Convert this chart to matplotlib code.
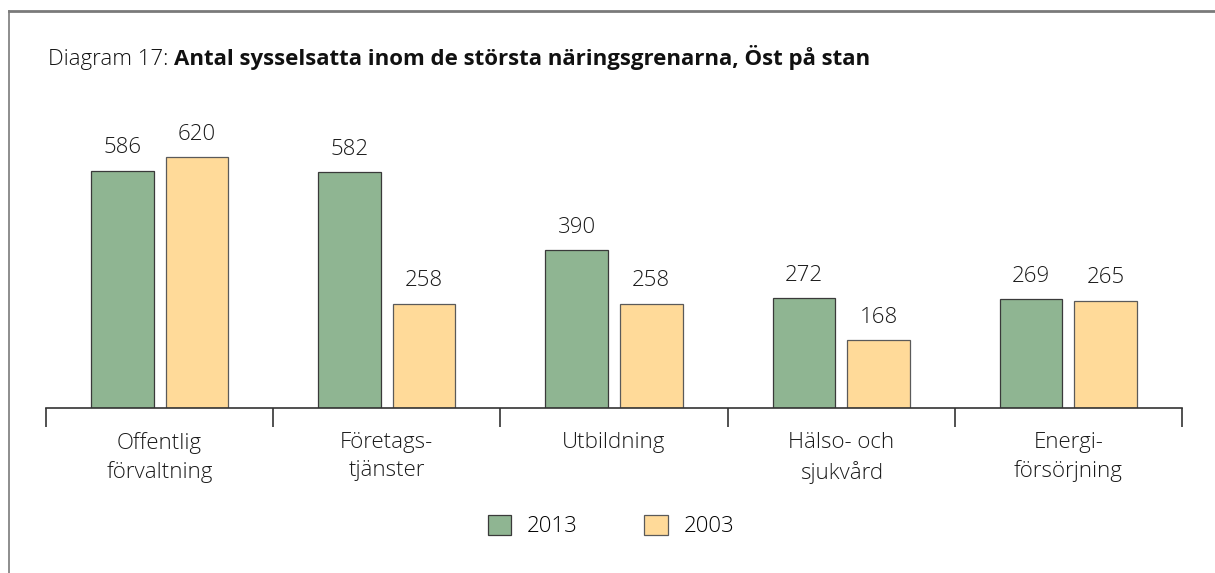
import matplotlib
matplotlib.use("Agg")
import matplotlib.pyplot as plt
import numpy as np

categories = ["Offentlig\nförvaltning", "Företags-\ntjänster", "Utbildning", "Hälso- och\nsjukvård", "Energi-\nförsörjning"]
series_names = ["2013", "2003"]
values_2013 = [586, 582, 390, 272, 269]
values_2003 = [620, 258, 258, 168, 265]
colors = ["#8FB592", "#FFDA99"]

plt.rcParams['font.family'] = ['Open Sans', 'DejaVu Sans']
plt.rcParams['font.weight'] = 'light'

W, H = 1215, 573
FS = 16
fig = plt.figure(figsize=(W / 100, H / 100), dpi=100)

# frame lines (top and left)
fig.add_artist(plt.Line2D([9 / W, 1], [1 - 11 / H, 1 - 11 / H], color="#7a7a7a", lw=2))
fig.add_artist(plt.Line2D([9 / W, 9 / W], [0, 1 - 11 / H], color="#7a7a7a", lw=1.2))

ax_left, ax_right, ax_bottom, ax_top = 46, 1182, 408, 100
ax = fig.add_axes([ax_left / W, 1 - ax_bottom / H, (ax_right - ax_left) / W, (ax_bottom - ax_top) / H])

n = len(categories)
x = np.arange(n)
bw = 0.275
gap = 0.053
b1 = ax.bar(x - (bw + gap) / 2, values_2013, bw, color=colors[0], edgecolor="#3a3a3a", linewidth=0.9, label=series_names[0])
b2 = ax.bar(x + (bw + gap) / 2, values_2003, bw, color=colors[1], edgecolor="#5a5a5a", linewidth=0.9, label=series_names[1])
for bars in (b1, b2):
    for r in bars:
        ax.annotate(f"{int(r.get_height())}", (r.get_x() + r.get_width() / 2, r.get_height()),
                    xytext=(0, 12.5), textcoords="offset points",
                    ha="center", va="baseline", fontsize=FS, color="#1a1a1a")

ax.set_xlim(-0.5, n - 0.5)
ax.set_ylim(0, (ax_bottom - ax_top) / (251 / 620))
for s in ["top", "right", "left"]:
    ax.spines[s].set_visible(False)
ax.spines["bottom"].set_color("#333333")
ax.spines["bottom"].set_linewidth(1.2)
ax.set_yticks([])
ax.set_xticks(np.arange(-0.5, n, 1.0))
ax.set_xticklabels([])
ax.tick_params(axis="x", length=14, width=1.2, color="#333333")
ax.set_xticks(x, minor=True)
ax.set_xticklabels(categories, minor=True, fontsize=FS, color="#1a1a1a", linespacing=1.45)
ax.tick_params(axis="x", which="minor", length=0, pad=17)

# legend
leg = fig.legend(handles=[b1, b2], labels=series_names, loc="center", bbox_to_anchor=(611 / W, 1 - 526 / H),
                 ncol=2, frameon=False, fontsize=FS, handlelength=1.04, handleheight=1.04,
                 columnspacing=3.0, handletextpad=0.72)

# title
t1 = fig.text(48 / W, 1 - 65 / H, "Diagram 17: ", fontsize=FS, va="baseline", ha="left", color="#111111")
fig.canvas.draw()
bb = t1.get_window_extent()
fig.text(bb.x1 / W, 1 - 65 / H, "Antal sysselsatta inom de största näringsgrenarna, Öst på stan",
         fontsize=FS, va="baseline", ha="left", fontweight="bold", color="#111111")

fig.savefig("out.png", dpi=100)
